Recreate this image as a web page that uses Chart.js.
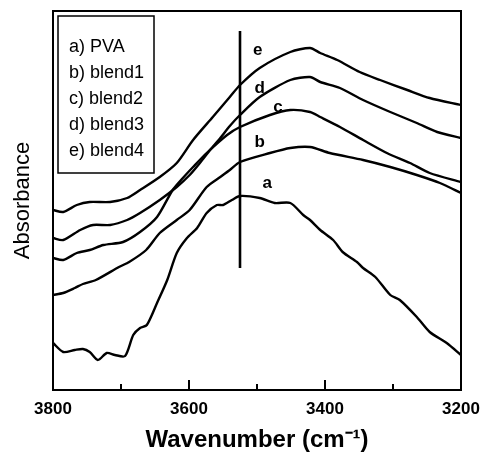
<!DOCTYPE html>
<html>
<head>
<meta charset="utf-8">
<script src="https://cdn.jsdelivr.net/npm/chart.js@4/dist/chart.umd.min.js"></script>
<style>
  html, body { margin: 0; padding: 0; background: #fff; }
  #wrap { width: 484px; height: 465px; position: relative; }
</style>
</head>
<body>
<div id="wrap"><canvas id="c"></canvas></div>
<script>
// espectros (absorbância em unidade arbitrária, curvas deslocadas)
const aWn  = [3800, 3785, 3768, 3756, 3746, 3734, 3721, 3709, 3694, 3682, 3672, 3662, 3647, 3632, 3618, 3603, 3588, 3574, 3559, 3550, 3537, 3525, 3496, 3474, 3451, 3432, 3422, 3407, 3388, 3374, 3353, 3344, 3326, 3304, 3290, 3265, 3246, 3221, 3200];
const aAbs = [0.47, 0.38, 0.40, 0.41, 0.38, 0.30, 0.37, 0.35, 0.34, 0.55, 0.62, 0.65, 0.87, 1.10, 1.37, 1.52, 1.62, 1.77, 1.85, 1.85, 1.90, 1.94, 1.92, 1.87, 1.87, 1.75, 1.70, 1.60, 1.50, 1.38, 1.28, 1.22, 1.13, 0.95, 0.90, 0.73, 0.58, 0.47, 0.35];

const bWn  = [3800, 3785, 3768, 3756, 3737, 3703, 3688, 3663, 3643, 3618, 3599, 3574, 3554, 3540, 3525, 3481, 3451, 3422, 3393, 3344, 3304, 3265, 3231, 3200];
const bAbs = [0.95, 0.97, 1.02, 1.06, 1.10, 1.23, 1.28, 1.40, 1.57, 1.70, 1.80, 2.03, 2.13, 2.20, 2.28, 2.37, 2.42, 2.43, 2.37, 2.30, 2.23, 2.15, 2.07, 1.97];

const cWn  = [3800, 3785, 3765, 3746, 3726, 3697, 3672, 3647, 3624, 3609, 3594, 3574, 3544, 3525, 3481, 3451, 3422, 3407, 3378, 3344, 3309, 3275, 3246, 3200];
const cAbs = [1.32, 1.30, 1.37, 1.40, 1.45, 1.48, 1.58, 1.73, 2.00, 2.12, 2.23, 2.37, 2.55, 2.63, 2.75, 2.80, 2.78, 2.73, 2.63, 2.50, 2.37, 2.27, 2.17, 2.08];

const dWn  = [3800, 3785, 3760, 3741, 3716, 3691, 3672, 3643, 3618, 3599, 3584, 3569, 3554, 3540, 3525, 3496, 3451, 3422, 3407, 3378, 3344, 3304, 3265, 3235, 3200];
const dAbs = [1.52, 1.50, 1.60, 1.65, 1.65, 1.70, 1.77, 1.90, 2.03, 2.15, 2.27, 2.40, 2.52, 2.64, 2.75, 2.93, 3.10, 3.13, 3.08, 3.02, 2.90, 2.78, 2.67, 2.58, 2.52];

const eWn  = [3800, 3785, 3765, 3746, 3716, 3691, 3672, 3643, 3618, 3594, 3565, 3540, 3525, 3496, 3451, 3422, 3407, 3382, 3349, 3319, 3279, 3246, 3200];
const eAbs = [1.80, 1.78, 1.85, 1.88, 1.88, 1.92, 2.00, 2.13, 2.27, 2.50, 2.73, 2.93, 3.05, 3.22, 3.38, 3.42, 3.37, 3.30, 3.18, 3.10, 3.00, 2.92, 2.85];

// linha vertical de referência
const markWn  = [3525, 3525];
const markAbs = [1.22, 3.59];

const legendItems = ['a) PVA', 'b) blend1', 'c) blend2', 'd) blend3', 'e) blend4'];
const curveLetters = ['a', 'b', 'c', 'd', 'e'];
const letterWn  = [3485, 3496, 3469, 3496, 3499];
const letterAbs = [2.07, 2.48, 2.83, 3.02, 3.40];

const xTicks = [3800, 3600, 3400, 3200];
const xMinor = [3700, 3500, 3300];

function pts(xs, ys) { return xs.map((x, i) => ({ x, y: ys[i] })); }

function serie(xs, ys, w) {
  return {
    data: pts(xs, ys), borderColor: '#000', borderWidth: w || 2.4,
    pointRadius: 0, fill: false, tension: 0.25
  };
}

// moldura, traços do eixo x, legenda em caixa e letras das curvas
const decor = {
  id: 'decor',
  afterDraw(chart) {
    const { ctx, chartArea: ca, scales } = chart;
    const sx = scales.x, sy = scales.y;
    ctx.save();
    ctx.strokeStyle = '#000';
    ctx.lineWidth = 2;
    ctx.strokeRect(ca.left, ca.top, ca.right - ca.left, ca.bottom - ca.top);
    ctx.beginPath();
    xTicks.forEach(v => { const px = sx.getPixelForValue(v); ctx.moveTo(px, ca.bottom); ctx.lineTo(px, ca.bottom - 10); });
    xMinor.forEach(v => { const px = sx.getPixelForValue(v); ctx.moveTo(px, ca.bottom); ctx.lineTo(px, ca.bottom - 6); });
    ctx.stroke();

    ctx.lineWidth = 1.5;
    ctx.strokeRect(58, 16, 96, 157);
    ctx.fillStyle = '#000';
    ctx.font = '18px "Liberation Sans", Arial, sans-serif';
    ctx.textBaseline = 'middle';
    ctx.textAlign = 'left';
    legendItems.forEach((t, i) => ctx.fillText(t, 69, 47 + i * 26));

    ctx.font = 'bold 17px "Liberation Sans", Arial, sans-serif';
    ctx.textAlign = 'center';
    curveLetters.forEach((t, i) => ctx.fillText(t, sx.getPixelForValue(letterWn[i]), sy.getPixelForValue(letterAbs[i])));
    ctx.restore();
  }
};

new Chart(document.getElementById('c'), {
  type: 'line',
  data: {
    datasets: [
      serie(aWn, aAbs), serie(bWn, bAbs), serie(cWn, cAbs),
      serie(dWn, dAbs), serie(eWn, eAbs), serie(markWn, markAbs, 2.6)
    ]
  },
  options: {
    responsive: true, maintainAspectRatio: false, animation: false,
    layout: { padding: { left: 0, top: 11, right: 23, bottom: 0 } },
    plugins: { legend: { display: false }, tooltip: { enabled: false } },
    scales: {
      x: {
        type: 'linear', reverse: true, min: 3200, max: 3800,
        afterFit: s => { s.height = 75; s.paddingLeft = 0; s.paddingRight = 0; },
        afterBuildTicks: s => { s.ticks = xTicks.map(v => ({ value: v })); },
        grid: { display: false, drawTicks: false },
        border: { display: false },
        ticks: {
          color: '#000', padding: 9, maxRotation: 0,
          callback: v => String(v),
          font: { family: '"Liberation Sans", Arial', size: 17, weight: 'bold' }
        },
        title: {
          display: true, text: 'Wavenumber (cm⁻¹)', color: '#000',
          padding: { top: 0, bottom: 10 },
          font: { family: '"Liberation Sans", Arial', size: 24, weight: 'bold' }
        }
      },
      y: {
        type: 'linear', min: 0, max: 3.79,
        afterFit: s => { s.width = 53; },
        grid: { display: false, drawTicks: false },
        border: { display: false },
        ticks: { display: false },
        title: {
          display: true, text: 'Absorbance', color: '#000',
          padding: { top: 10, bottom: 0 },
          font: { family: '"Liberation Sans", Arial', size: 22 }
        }
      }
    }
  },
  plugins: [decor]
});
</script>
</body>
</html>
